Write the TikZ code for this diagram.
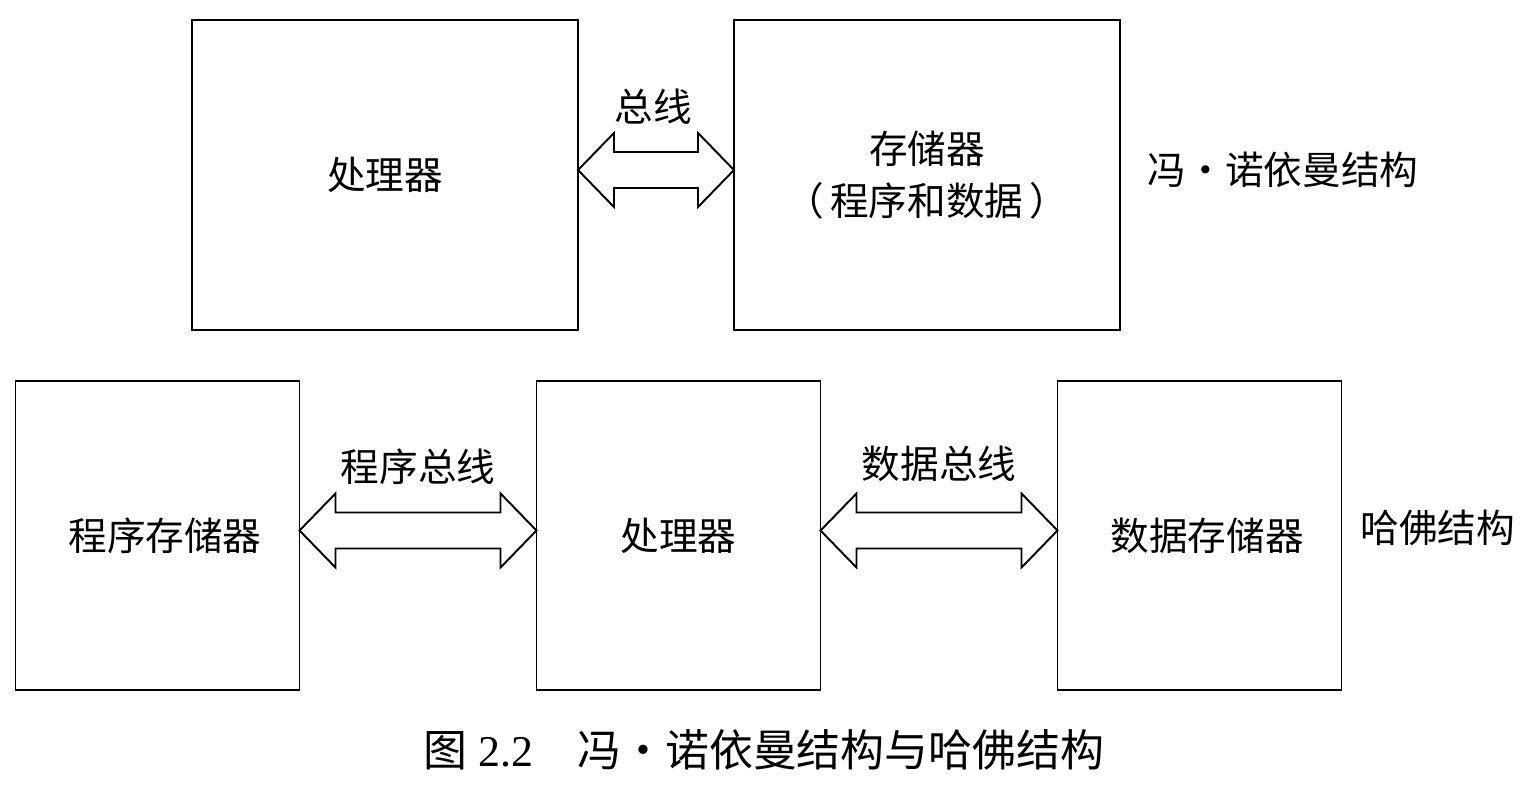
\documentclass[tikz,border=0pt]{standalone}
\usepackage{fontspec}
\setmainfont{Liberation Serif}
\newfontfamily\cjk{Noto Sans CJK SC}
\usetikzlibrary{positioning, calc}

\begin{document}
\begin{tikzpicture}[
  line width=1.1pt,
  unit/.style = {draw, outer sep=0pt, minimum width=7.72cm, minimum height=6.2cm, align=center, font=\cjk\fontsize{22}{30}\selectfont},
  hunit/.style = {unit, minimum width=5.68cm, minimum height=6.18cm},
  lbl/.style = {font=\cjk\fontsize{22}{26}\selectfont, inner sep=0pt},
  side/.style = {lbl, anchor=west},
  bus/.style = {draw, line join=miter, fill=white}
]
\useasboundingbox (0,0) rectangle (30.58,-15.72);

% von Neumann
\node[unit] (cpuA) at (7.7,-3.5) {处理器};
\node[unit, right=3.12cm of cpuA] (mem) {存储器\\（\hspace{0.15em}程序和数据\hspace{0.15em}）};
\node[side, right=0.54cm of mem, yshift=0.1cm] (vn) {冯·诺依曼结构};

% Harvard
\node[hunit] (pmem) at (3.15,-10.71) {\hspace{0.3cm}程序存储器};
\node[hunit, right=4.74cm of pmem] (cpuB) {处理器};
\node[hunit, right=4.74cm of cpuB] (dmem) {\hspace{0.3cm}数据存储器};
\node[side, right=0.36cm of dmem, yshift=0.15cm] (hv) {哈佛结构};

% buses
\foreach \a/\b in {cpuA/mem, pmem/cpuB, cpuB/dmem}
  \draw[bus] ($(\a.east)+(0,0.1)$) -- ++(0.72,0.74) -- ++(0,-0.38)
    -- ($(\b.west)+(-0.72,0.46)$) -- ++(0,0.38) -- ($(\b.west)+(0,0.1)$)
    -- ++(-0.72,-0.74) -- ++(0,0.38) -- ($(\a.east)+(0.72,-0.26)$)
    -- ++(0,-0.38) -- cycle;

\node[lbl] (busA) at ($(cpuA.east)!0.5!(mem.west)+(-0.06,1.36)$) {总线};
\node[lbl] (busP) at ($(pmem.east)!0.5!(cpuB.west)+(0,1.38)$) {程序总线};
\node[lbl] (busD) at ($(cpuB.east)!0.5!(dmem.west)+(0,1.44)$) {数据总线};

\node[font=\fontsize{25}{30}\selectfont, inner sep=0pt] (cap) at (15.28,-15.0)
  {{\cjk 图} 2.2\quad{\cjk 冯·诺依曼结构与哈佛结构}};
\end{tikzpicture}
\end{document}
